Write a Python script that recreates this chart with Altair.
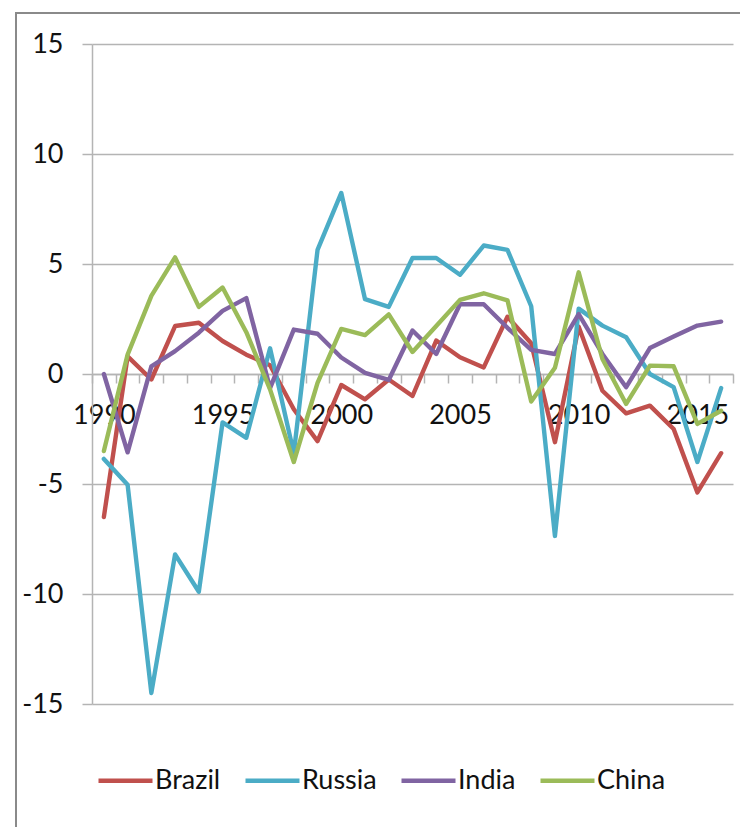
import altair as alt
import pandas as pd

years = list(range(1990, 2017))

brazil = [-6.5, 0.8, -0.25, 2.18, 2.33, 1.5, 0.88, 0.4, -1.6, -3.05, -0.5, -1.15, -0.25, -1.0,
          1.52, 0.76, 0.3, 2.6, 1.4, -3.1, 2.15, -0.76, -1.79, -1.44, -2.5, -5.38, -3.6]
russia = [-3.86, -5.03, -14.5, -8.2, -9.9, -2.2, -2.9, 1.17, -3.6, 5.64, 8.23, 3.4, 3.05, 5.27,
          5.27, 4.51, 5.84, 5.64, 3.08, -7.36, 2.97, 2.2, 1.67, 0.0, -0.6, -4.0, -0.64]
india = [0.0, -3.56, 0.35, 1.04, 1.88, 2.87, 3.45, -0.64, 2.02, 1.83, 0.75, 0.05, -0.27, 1.98,
         0.91, 3.17, 3.17, 2.1, 1.1, 0.91, 2.72, 0.91, -0.6, 1.18, 1.7, 2.2, 2.38]
china = [-3.5, 0.88, 3.55, 5.3, 3.05, 3.93, 1.9, -0.7, -4.0, -0.4, 2.05, 1.77, 2.71, 1.0,
         2.18, 3.37, 3.67, 3.35, -1.25, 0.28, 4.62, 0.68, -1.36, 0.38, 0.35, -2.27, -1.67]

countries = ["Brazil", "Russia", "India", "China"]
colors = ["#C0504D", "#4BACC6", "#8064A2", "#9BBB59"]
series = {"Brazil": brazil, "Russia": russia, "India": india, "China": china}

y_ticks = [-15, -10, -5, 0, 5, 10, 15]

rows = []
for order, c in enumerate(countries):
    for yr, v in zip(years, series[c]):
        rows.append({"year": yr, "value": v, "country": c, "order": order})
df = pd.DataFrame(rows)

FONT = "Lato"
GRID = "#b4b4b4"

W, H = 641, 660

lines = alt.Chart(df).mark_line(strokeWidth=4.4, strokeCap="round", strokeJoin="round").encode(
    x=alt.X(
        "year:O",
        scale=alt.Scale(type="band", domain=years, paddingInner=0, paddingOuter=0),
        axis=alt.Axis(
            tickBand="extent",
            labelExpr="datum.value % 5 == 0 ? datum.label : ''",
            labelAngle=0,
            labelOverlap=False,
            labelFlush=False,
            labelBound=False,
            offset=-H / 2,
            grid=False,
            tickSize=9,
            tickColor=GRID,
            tickWidth=1.5,
            domainColor=GRID,
            domainWidth=1.5,
            labelPadding=19,
            labelFont=FONT,
            labelFontSize=27,
            labelColor="#111111",
            title=None,
        ),
    ),
    y=alt.Y(
        "value:Q",
        scale=alt.Scale(domain=[-15, 15], nice=False, zero=False),
        axis=alt.Axis(
            values=y_ticks,
            labelExpr="datum.value + ''",
            grid=True,
            gridColor=GRID,
            gridWidth=1.5,
            tickSize=10,
            tickColor=GRID,
            tickWidth=1.5,
            domainColor=GRID,
            domainWidth=1.5,
            labelPadding=19,
            labelFont=FONT,
            labelFontSize=27,
            labelColor="#111111",
            title=None,
        ),
    ),
    color=alt.Color(
        "country:N",
        scale=alt.Scale(domain=countries, range=colors),
        sort=countries,
        legend=alt.Legend(
            orient="none",
            legendX=4,
            legendY=707,
            direction="horizontal",
            columns=4,
            title=None,
            symbolType="stroke",
            symbolSize=2916,
            symbolStrokeWidth=4.6,
            labelFont=FONT,
            labelFontSize=27,
            labelColor="#111111",
            labelOffset=0,
            columnPadding=15,
            padding=0,
        ),
    ),
    order=alt.Order("order:Q"),
    detail="country:N",
)

border = alt.Chart(pd.DataFrame({"k": [0]})).mark_rect(
    fill=None, stroke="#8a8a8a", strokeWidth=2
).encode(
    x=alt.value(-76), x2=alt.value(700), y=alt.value(-31), y2=alt.value(900)
)

chart = alt.layer(border, lines).properties(
    width=W,
    height=H,
    padding={"left": 84, "top": 36, "right": 7, "bottom": 123},
    autosize=alt.AutoSizeParams(type="none"),
    background="white",
).configure_view(stroke=None)

chart.save("out.html", embed_options={"renderer": "svg", "actions": False})
